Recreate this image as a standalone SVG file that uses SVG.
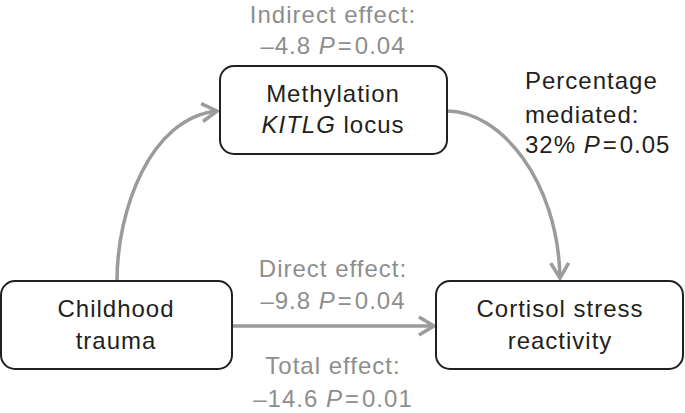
<svg xmlns="http://www.w3.org/2000/svg" width="685" height="413" viewBox="0 0 685 413">
<defs>
<style>
.box{fill:#fff;stroke:#231f20;stroke-width:2}
.t{font-family:"Liberation Sans",Arial,Helvetica,sans-serif;font-size:24px;letter-spacing:1px}
.dark{fill:#231f20}
.gray{fill:#8e8e8e}
.mid{text-anchor:middle}
.conn{fill:none;stroke:#9b9b9b;stroke-width:3.5}
.i{font-style:italic}
</style>
<marker id="arr" markerUnits="userSpaceOnUse" markerWidth="24" markerHeight="24" refX="18" refY="12" orient="auto" viewBox="0 0 24 24">
<path d="M3,3 L18,12 L3,21" fill="none" stroke="#9b9b9b" stroke-width="3.5" stroke-linejoin="miter"/>
</marker>
</defs>
<rect width="685" height="413" fill="#fff"/>
<g id="connectors">
<path class="conn" d="M117,281 C117,210 150,118 217,111" marker-end="url(#arr)"/>
<path class="conn" d="M447,111 C500,111 558,180 560,278" marker-end="url(#arr)"/>
<path class="conn" d="M232,326 L434,326" marker-end="url(#arr)"/>
</g>
<g id="node-methylation">
<rect class="box" x="220" y="66" width="227" height="88" rx="14"/>
<text class="t dark mid" x="333" y="102">Methylation</text>
<text class="t dark mid" x="333" y="133"><tspan class="i">KITLG</tspan> locus</text>
</g>
<g id="node-childhood">
<rect class="box" x="1" y="281" width="231" height="88" rx="14"/>
<text class="t dark mid" x="116" y="317">Childhood</text>
<text class="t dark mid" x="116" y="349">trauma</text>
</g>
<g id="node-cortisol">
<rect class="box" x="436" y="281" width="247" height="88" rx="14"/>
<text class="t dark mid" x="560" y="317">Cortisol stress</text>
<text class="t dark mid" x="560" y="349">reactivity</text>
</g>
<g id="labels">
<text class="t gray mid" x="333" y="22.5">Indirect effect:</text>
<text class="t gray mid" x="333" y="54">–4.8 <tspan class="i">P</tspan><tspan dx="2">=</tspan><tspan dx="2">0.04</tspan></text>
<text class="t dark" x="525" y="89">Percentage</text>
<text class="t dark" x="525" y="122.5">mediated:</text>
<text class="t dark" x="525" y="153">32% <tspan class="i">P</tspan><tspan dx="2">=</tspan><tspan dx="2">0.05</tspan></text>
<text class="t gray mid" x="333" y="277">Direct effect:</text>
<text class="t gray mid" x="333" y="309">–9.8 <tspan class="i">P</tspan><tspan dx="2">=</tspan><tspan dx="2">0.04</tspan></text>
<text class="t gray mid" x="333" y="374">Total effect:</text>
<text class="t gray mid" x="333" y="406.5">–14.6 <tspan class="i">P</tspan><tspan dx="2">=</tspan><tspan dx="2">0.01</tspan></text>
</g>
</svg>
